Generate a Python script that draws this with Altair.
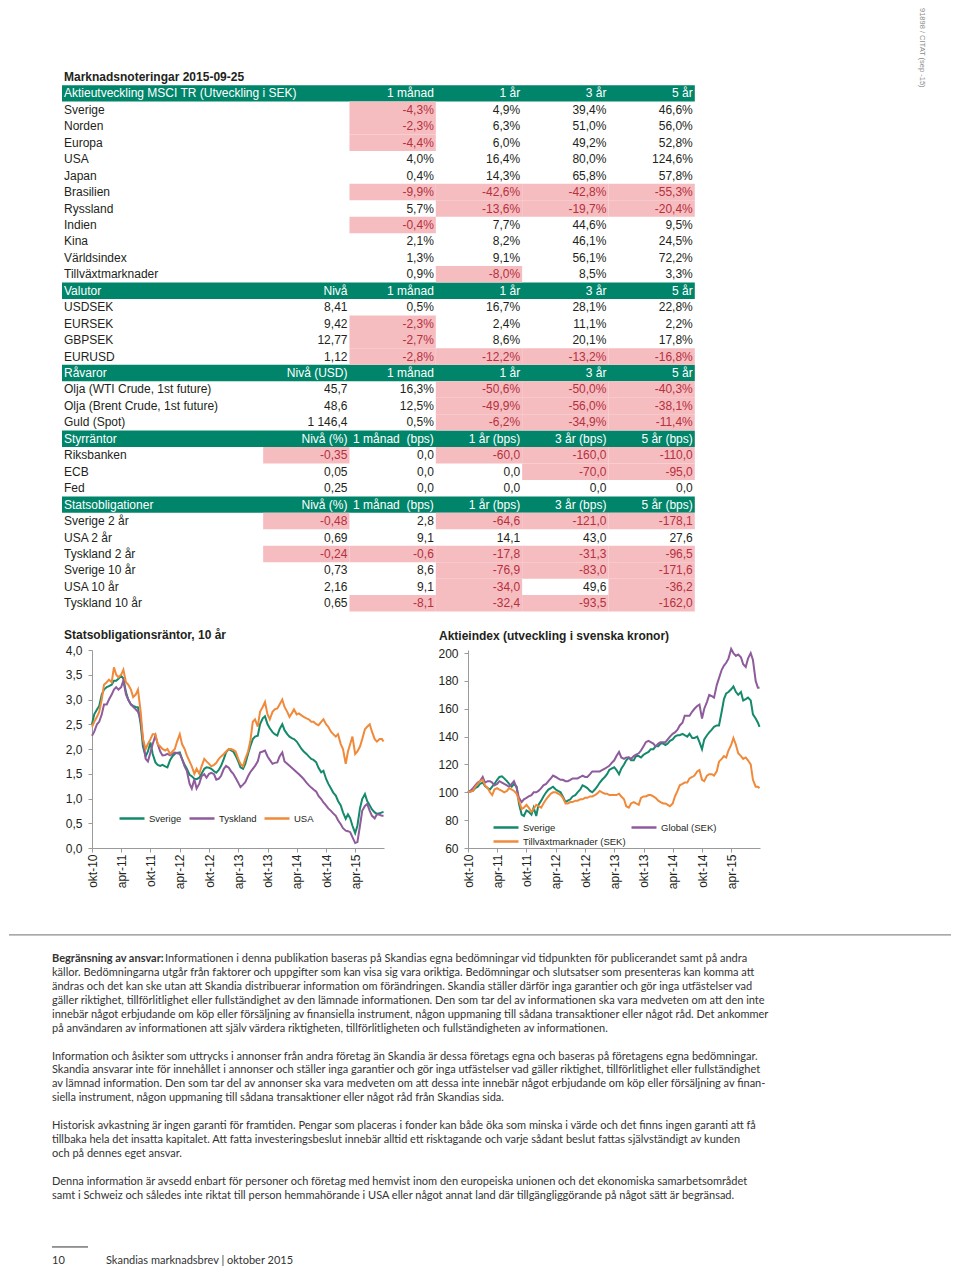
import altair as alt
import pandas as pd

# ======================= TABLE VALUES =======================
TABLE_TITLE = "Marknadsnoteringar 2015-09-25"
NOTE = "91898 / CITAT (sep -15)"

AKTIE_HEAD = ["Aktieutveckling MSCI TR (Utveckling i SEK)", "", "1 månad", "1 år", "3 år", "5 år"]
AKTIE_LABELS = ["Sverige", "Norden", "Europa", "USA", "Japan", "Brasilien", "Ryssland",
                "Indien", "Kina", "Världsindex", "Tillväxtmarknader"]
AKTIE_1M = [-4.3, -2.3, -4.4, 4.0, 0.4, -9.9, 5.7, -0.4, 2.1, 1.3, 0.9]
AKTIE_1Y = [4.9, 6.3, 6.0, 16.4, 14.3, -42.6, -13.6, 7.7, 8.2, 9.1, -8.0]
AKTIE_3Y = [39.4, 51.0, 49.2, 80.0, 65.8, -42.8, -19.7, 44.6, 46.1, 56.1, 8.5]
AKTIE_5Y = [46.6, 56.0, 52.8, 124.6, 57.8, -55.3, -20.4, 9.5, 24.5, 72.2, 3.3]

VALUTA_HEAD = ["Valutor", "Nivå", "1 månad", "1 år", "3 år", "5 år"]
VALUTA_LABELS = ["USDSEK", "EURSEK", "GBPSEK", "EURUSD"]
VALUTA_NIVA = [8.41, 9.42, 12.77, 1.12]
VALUTA_1M = [0.5, -2.3, -2.7, -2.8]
VALUTA_1Y = [16.7, 2.4, 8.6, -12.2]
VALUTA_3Y = [28.1, 11.1, 20.1, -13.2]
VALUTA_5Y = [22.8, 2.2, 17.8, -16.8]

RAVARA_HEAD = ["Råvaror", "Nivå (USD)", "1 månad", "1 år", "3 år", "5 år"]
RAVARA_LABELS = ["Olja (WTI Crude, 1st future)", "Olja (Brent Crude, 1st future)", "Guld (Spot)"]
RAVARA_NIVA = [45.7, 48.6, 1146.4]
RAVARA_1M = [16.3, 12.5, 0.5]
RAVARA_1Y = [-50.6, -49.9, -6.2]
RAVARA_3Y = [-50.0, -56.0, -34.9]
RAVARA_5Y = [-40.3, -38.1, -11.4]

STYR_HEAD = ["Styrräntor", "Nivå (%)", "1 månad\u00a0 (bps)", "1 år (bps)", "3 år (bps)", "5 år (bps)"]
STYR_LABELS = ["Riksbanken", "ECB", "Fed"]
STYR_NIVA = [-0.35, 0.05, 0.25]
STYR_1M = [0.0, 0.0, 0.0]
STYR_1Y = [-60.0, 0.0, 0.0]
STYR_3Y = [-160.0, -70.0, 0.0]
STYR_5Y = [-110.0, -95.0, 0.0]

OBL_HEAD = ["Statsobligationer", "Nivå (%)", "1 månad\u00a0 (bps)", "1 år (bps)", "3 år (bps)", "5 år (bps)"]
OBL_LABELS = ["Sverige 2 år", "USA 2 år", "Tyskland 2 år", "Sverige 10 år", "USA 10 år", "Tyskland 10 år"]
OBL_NIVA = [-0.48, 0.69, -0.24, 0.73, 2.16, 0.65]
OBL_1M = [2.8, 9.1, -0.6, 8.6, 9.1, -8.1]
OBL_1Y = [-64.6, 14.1, -17.8, -76.9, -34.0, -32.4]
OBL_3Y = [-121.0, 43.0, -31.3, -83.0, 49.6, -93.5]
OBL_5Y = [-178.1, 27.6, -96.5, -171.6, -36.2, -162.0]

# ======================= LINE CHART VALUES =======================
# sampling dates: 1st and 15th of each month, Oct 2010 - Sep 2015, plus 2015-09-25
MONTHS = [(2010 + (9 + i) // 12, (9 + i) % 12 + 1) for i in range(60)]
DATES = [f"{y}-{m:02d}-{d:02d}" for (y, m) in MONTHS for d in (1, 15)] + ["2015-09-25"]

BOND_NAMES = ["Sverige", "Tyskland", "USA"]
BOND_SVERIGE = [2.5, 2.7, 2.8, 2.87, 3.1, 3.2, 3.25, 3.27, 3.3, 3.38,
                3.38, 3.42, 3.48, 3.42, 3.15, 3.0, 2.9, 2.87, 2.85, 2.84,
                2.5, 2.05, 1.85, 1.95, 2.13, 1.9, 1.73, 1.68, 1.66, 1.68,
                1.65, 1.63, 1.78, 1.85, 1.9, 1.92, 1.93, 1.8, 1.68, 1.6,
                1.48, 1.45, 1.4, 1.39, 1.42, 1.5, 1.6, 1.63, 1.62, 1.6,
                1.55, 1.52, 1.58, 1.66, 1.8, 1.93, 2.0, 1.97, 1.95, 1.87,
                1.75, 1.63, 1.6, 1.7, 1.9, 2.05, 2.2, 2.25, 2.27, 2.5,
                2.62, 2.66, 2.5, 2.42, 2.34, 2.3, 2.27, 2.4, 2.5, 2.38,
                2.3, 2.25, 2.22, 2.2, 2.15, 2.08, 2.0, 1.95, 1.9, 1.85,
                1.8, 1.78, 1.73, 1.62, 1.53, 1.56, 1.4, 1.3, 1.2, 1.12,
                1.06, 0.95, 0.86, 0.72, 0.59, 0.68, 0.6, 0.45, 0.3, 0.45,
                0.8, 0.99, 1.09, 0.95, 0.86, 0.78, 0.72, 0.69, 0.7, 0.72,
                0.73]
BOND_TYSKLAND = [2.27, 2.35, 2.5, 2.55, 2.7, 2.9, 2.9, 3.0, 3.1, 3.2,
                 3.25, 3.2, 3.25, 3.38, 3.1, 3.0, 2.9, 2.85, 2.8, 2.75,
                 2.6, 2.2, 1.8, 1.75, 1.93, 2.1, 2.27, 2.1, 1.95, 1.87,
                 1.88, 1.9, 1.87, 1.9, 1.93, 1.92, 1.9, 1.8, 1.65, 1.56,
                 1.3, 1.2, 1.39, 1.2, 1.3, 1.45, 1.49, 1.42, 1.5, 1.52,
                 1.49, 1.38, 1.4, 1.46, 1.6, 1.66, 1.62, 1.55, 1.5, 1.42,
                 1.32, 1.23, 1.28, 1.33, 1.45, 1.53, 1.6, 1.66, 1.75, 1.93,
                 1.95, 1.97, 1.85, 1.78, 1.7, 1.72, 1.73, 1.85, 1.93, 1.75,
                 1.7, 1.66, 1.62, 1.58, 1.53, 1.49, 1.44, 1.39, 1.32, 1.27,
                 1.22, 1.18, 1.14, 1.05, 0.99, 0.92, 0.86, 0.8, 0.75, 0.7,
                 0.65, 0.56, 0.48, 0.4, 0.35, 0.34, 0.32, 0.22, 0.1, 0.12,
                 0.45, 0.75, 0.85, 0.89, 0.75, 0.65, 0.6, 0.68, 0.67, 0.65,
                 0.65]
BOND_USA = [2.45, 2.55, 2.65, 2.75, 3.0, 3.3, 3.35, 3.4, 3.35, 3.65,
            3.5, 3.45, 3.5, 3.6, 3.35, 3.3, 3.2, 3.05, 3.1, 3.2,
            2.75, 2.2, 2.0, 2.1, 2.2, 2.3, 2.3, 2.1, 2.05, 2.0,
            1.97, 2.0, 1.9, 1.95, 2.0, 2.15, 2.3, 2.1, 2.0, 1.87,
            1.75, 1.65, 1.5, 1.6, 1.5, 1.65, 1.8, 1.75, 1.7, 1.65,
            1.68, 1.72, 1.8, 1.85, 1.9, 1.95, 2.0, 2.0, 1.98, 1.95,
            1.8, 1.7, 1.65, 1.8, 1.95, 2.15, 2.55, 2.6, 2.45, 2.75,
            2.85, 2.95, 2.7, 2.6, 2.75, 2.8, 2.82, 2.9, 3.0, 2.85,
            2.75, 2.65, 2.72, 2.8, 2.7, 2.72, 2.68, 2.65, 2.62, 2.6,
            2.55, 2.55, 2.5, 2.48, 2.55, 2.6, 2.5, 2.45, 2.35, 2.3,
            2.25, 2.3, 2.1, 2.0, 1.7, 1.95, 2.1, 2.25, 1.9, 1.95,
            2.05, 2.2, 2.4, 2.45, 2.5, 2.35, 2.2, 2.15, 2.2, 2.2,
            2.15]

EQ_NAMES = ["Sverige", "Global (SEK)", "Tillväxtmarknader (SEK)"]
EQ_SVERIGE = [100, 100.5, 101, 103, 104, 106, 107, 104.5, 103, 102,
              104, 106, 109, 111, 111.5, 110, 108, 106, 104, 106,
              104, 92, 84, 83, 87, 86, 84, 89, 83, 91,
              94, 97, 100, 102, 103, 104, 102, 101, 100, 97,
              93, 94, 95, 97, 98, 100, 102, 105, 104, 103,
              101, 100, 102, 104, 107, 109, 111, 113, 116, 117,
              118, 116, 113, 117, 120, 123, 125, 123, 123, 126,
              126, 125, 127, 128, 129, 131, 131, 133, 133, 135,
              135, 134, 135, 137, 138, 140, 141, 141, 142, 141,
              140, 142, 139, 139, 140, 136, 131, 138, 141, 143,
              145, 147, 148, 148, 158, 167, 171, 172, 174, 176,
              172, 170, 172, 166, 167, 168, 166, 156, 153, 150,
              147]
EQ_GLOBAL = [100, 101, 103, 105, 107, 108, 111, 107, 108, 108,
             107, 105, 106, 108, 107, 106, 105, 104, 106, 108,
             103, 96, 93, 95, 96, 97, 98, 100, 100, 101,
             103, 105, 106, 108, 110, 112, 111, 110, 109, 109,
             108, 108, 109, 110, 110, 110, 111, 112, 111, 111,
             113, 115, 115, 115, 115, 116, 117, 118, 119, 121,
             123, 126, 129, 125, 124, 125, 125, 124, 126, 127,
             128, 130, 133, 136, 137, 136, 135, 133, 135, 136,
             136, 136, 138, 140, 142, 143, 145, 148, 150, 155,
             155, 155, 158, 160, 162, 163, 153, 160, 165, 170,
             169, 168, 177, 182, 188, 191, 193, 196, 203, 200,
             198, 199, 197, 192, 190, 196, 200, 195, 180, 175,
             175]
EQ_EM = [100, 100.5, 101, 104, 106, 108, 109, 105, 103, 100,
         98, 102, 103, 102, 101, 100, 101, 103, 102, 101,
         99, 94, 88, 89, 91, 89, 86, 88, 91, 90,
         89, 92, 95, 97, 99, 100, 100, 99, 98, 96,
         92, 92, 93, 93, 94, 94, 95, 95, 96, 96,
         97, 97, 98, 99, 101, 100, 99, 99, 98, 98,
         98, 98, 99, 97, 95, 90, 89, 92, 93, 92,
         91, 96, 97, 97, 98, 98, 97, 96, 94, 93,
         92, 92, 91, 90, 92, 97, 101, 105, 106, 107,
         107, 110, 111, 112, 115, 116, 109, 108, 112, 113,
         113, 112, 115, 122, 124, 126, 125, 130, 134, 139,
         134, 128, 126, 124, 125, 123, 120, 109, 104, 104,
         103]

BOND_TITLE = "Statsobligationsräntor, 10 år"
EQ_TITLE = "Aktieindex (utveckling i svenska kronor)"
BOND_TICKS = [0, 0.5, 1.0, 1.5, 2.0, 2.5, 3.0, 3.5, 4.0]
EQ_TICKS = [60, 80, 100, 120, 140, 160, 180, 200]

# ======================= TEXT =======================
DISCLAIMER_HEAD = "Begränsning av ansvar:"
DISCLAIMER_LINES = [
    "Informationen i denna publikation baseras på Skandias egna bedömningar vid tidpunkten för publicerandet samt på andra",
    "källor. Bedömningarna utgår från faktorer och uppgifter som kan visa sig vara oriktiga. Bedömningar och slutsatser som presenteras kan komma att",
    "ändras och det kan ske utan att Skandia distribuerar information om förändringen. Skandia ställer därför inga garantier och gör inga utfästelser vad",
    "gäller riktighet, tillförlitlighet eller fullständighet av den lämnade informationen. Den som tar del av informationen ska vara medveten om att den inte",
    "innebär något erbjudande om köp eller försäljning av finansiella instrument, någon uppmaning till sådana transaktioner eller något råd. Det ankommer",
    "på användaren av informationen att själv värdera riktigheten, tillförlitligheten och fullständigheten av informationen.",
    "",
    "Information och åsikter som uttrycks i annonser från andra företag än Skandia är dessa företags egna och baseras på företagens egna bedömningar.",
    "Skandia ansvarar inte för innehållet i annonser och ställer inga garantier och gör inga utfästelser vad gäller riktighet, tillförlitlighet eller fullständighet",
    "av lämnad information. Den som tar del av annonser ska vara medveten om att dessa inte innebär något erbjudande om köp eller försäljning av finan-",
    "siella instrument, någon uppmaning till sådana transaktioner eller något råd från Skandias sida.",
    "",
    "Historisk avkastning är ingen garanti för framtiden. Pengar som placeras i fonder kan både öka som minska i värde och det finns ingen garanti att få",
    "tillbaka hela det insatta kapitalet. Att fatta investeringsbeslut innebär alltid ett risktagande och varje sådant beslut fattas självständigt av kunden",
    "och på dennes eget ansvar.",
    "",
    "Denna information är avsedd enbart för personer och företag med hemvist inom den europeiska unionen och det ekonomiska samarbetsområdet",
    "samt i Schweiz och således inte riktat till person hemmahörande i USA eller något annat land där tillgängliggörande på något sätt är begränsad.",
]
PAGE_NO = "10"
FOOTER = "Skandias marknadsbrev | oktober 2015"

# ======================= STYLE / LAYOUT =======================
FONT = "Liberation Sans, Arial, Helvetica, sans-serif"
TEXT_FONT = "Lato, 'Open Sans', sans-serif"
GREEN = "#00856A"
PINK = "#F6BDC1"
RED = "#B5303C"
INK = "#231F20"
C_GREEN = "#14896B"
C_PURPLE = "#8E5B9C"
C_ORANGE = "#F08A3A"
AX = "#9A9A9A"

# all panels share the same plot origin (page x = 91)
UNIT = 86.33          # px per value column
LABEL_U = 2.33        # width of label column in column units
TABLE_U = LABEL_U + 5
TBL_OFF = 30          # table starts this many px left of the shared origin
TABLE_W = 603
ROW_H = 16.45
Y_TOP = 4.19
Y_BOT = 33.55
LINE_H = 13.95
T_TOP = 5.01
T_BOT = 22.1
TXT_X = -40
TXT_SIZE = 11


def fmt(v, kind):
    if kind == "pct":
        s = f"{v:.1f}%"
    elif kind == "lvl2":
        s = f"{v:.2f}"
    elif kind == "lvl1k":
        s = f"{v:,.1f}".replace(",", " ")
    else:
        s = f"{v:.1f}"
    return s.replace(".", ",")


sections = [
    (AKTIE_HEAD, AKTIE_LABELS, [None, AKTIE_1M, AKTIE_1Y, AKTIE_3Y, AKTIE_5Y],
     [None, "pct", "pct", "pct", "pct"]),
    (VALUTA_HEAD, VALUTA_LABELS, [VALUTA_NIVA, VALUTA_1M, VALUTA_1Y, VALUTA_3Y, VALUTA_5Y],
     ["lvl2", "pct", "pct", "pct", "pct"]),
    (RAVARA_HEAD, RAVARA_LABELS, [RAVARA_NIVA, RAVARA_1M, RAVARA_1Y, RAVARA_3Y, RAVARA_5Y],
     ["lvl1k", "pct", "pct", "pct", "pct"]),
    (STYR_HEAD, STYR_LABELS, [STYR_NIVA, STYR_1M, STYR_1Y, STYR_3Y, STYR_5Y],
     ["lvl2", "bps", "bps", "bps", "bps"]),
    (OBL_HEAD, OBL_LABELS, [OBL_NIVA, OBL_1M, OBL_1Y, OBL_3Y, OBL_5Y],
     ["lvl2", "bps", "bps", "bps", "bps"]),
]

left_txt, right_txt, bands, pinks = [], [], [], []
r = 1
for head, labels, cols, kinds in sections:
    bands.append({"x0": 0, "x1": TABLE_U, "y0": r - 0.5, "y1": r + 0.5})
    left_txt.append({"x": 0, "row": r, "t": head[0], "c": "#FFFFFF"})
    for j, h in enumerate(head[1:]):
        if h:
            right_txt.append({"x": LABEL_U + j + 1, "row": r, "t": h, "c": "#FFFFFF"})
    r += 1
    for i, lab in enumerate(labels):
        left_txt.append({"x": 0, "row": r, "t": lab, "c": INK})
        for j, (col, kind) in enumerate(zip(cols, kinds)):
            if col is None:
                continue
            v = col[i]
            neg = v < 0
            if neg:
                pinks.append({"x0": LABEL_U + j, "x1": LABEL_U + j + 1, "y0": r - 0.5, "y1": r + 0.5})
            right_txt.append({"x": LABEL_U + j + 1, "row": r, "t": fmt(v, kind), "c": RED if neg else INK})
        r += 1

xs = alt.Scale(domain=[TBL_OFF / UNIT, (TBL_OFF + TABLE_W) / UNIT], nice=False, zero=False)
ys = alt.Scale(domain=[-Y_TOP, Y_BOT], reverse=True, nice=False, zero=False)

band_layer = alt.Chart(pd.DataFrame(bands)).mark_rect(color=GREEN).encode(
    x=alt.X("x0:Q", scale=xs, axis=None), x2="x1:Q",
    y=alt.Y("y0:Q", scale=ys, axis=None), y2="y1:Q")
pink_layer = alt.Chart(pd.DataFrame(pinks)).mark_rect(color=PINK).encode(
    x=alt.X("x0:Q", scale=xs, axis=None), x2="x1:Q",
    y=alt.Y("y0:Q", scale=ys, axis=None), y2="y1:Q")
ltxt_layer = alt.Chart(pd.DataFrame(left_txt)).mark_text(
    align="left", baseline="middle", dx=2, font=FONT, fontSize=12).encode(
    x=alt.X("x:Q", scale=xs, axis=None), y=alt.Y("row:Q", scale=ys, axis=None),
    text="t:N", color=alt.Color("c:N", scale=None))
rtxt_layer = alt.Chart(pd.DataFrame(right_txt)).mark_text(
    align="right", baseline="middle", dx=-2, font=FONT, fontSize=12).encode(
    x=alt.X("x:Q", scale=xs, axis=None), y=alt.Y("row:Q", scale=ys, axis=None),
    text="t:N", color=alt.Color("c:N", scale=None))
title_layer = alt.Chart(pd.DataFrame({"x": [0], "row": [0], "t": [TABLE_TITLE]})).mark_text(
    align="left", baseline="middle", dx=2, font=FONT, fontSize=12, fontWeight="bold", color=INK).encode(
    x=alt.X("x:Q", scale=xs, axis=None), y=alt.Y("row:Q", scale=ys, axis=None), text="t:N")
note_layer = alt.Chart(pd.DataFrame({"t": [NOTE]})).mark_text(
    angle=90, align="left", baseline="middle", font=FONT, fontSize=7.5, color="#8a8a8a").encode(
    x=alt.value(830), y=alt.value(0), text="t:N")

table = alt.layer(band_layer, pink_layer, ltxt_layer, rtxt_layer, title_layer, note_layer).properties(
    width=TABLE_W, height=ROW_H * (Y_TOP + Y_BOT))

# ---------- line charts ----------
X_TICKS = [alt.DateTime(year=y, month=m, date=1, utc=True)
           for y, m in [(2010, 10), (2011, 4), (2011, 10), (2012, 4), (2012, 10),
                        (2013, 4), (2013, 10), (2014, 4), (2014, 10), (2015, 4)]]
x_scale = alt.Scale(type="utc", domain=[alt.DateTime(year=2010, month=10, date=1, utc=True),
                                        alt.DateTime(year=2015, month=9, date=28, utc=True)])


def x_axis():
    return alt.Axis(values=X_TICKS, title=None, grid=False,
                    labelExpr="(utcmonth(datum.value) == 9 ? 'okt' : 'apr') + '-' + utcFormat(datum.value, '%y')",
                    labelAngle=270, labelAlign="right", labelBaseline="middle", labelPadding=2,
                    labelFont=FONT, labelFontSize=12, labelColor=INK, labelFlush=False, labelOverlap=False,
                    tickSize=4, tickColor=AX, domainColor=AX)


def legend(lx, ly, colpad=2):
    return alt.Legend(title=None, orient="none", legendX=lx, legendY=ly, direction="horizontal",
                      symbolType="stroke", symbolSize=625, symbolStrokeWidth=2.5,
                      labelFont=FONT, labelFontSize=9.5, labelColor=INK, labelOffset=3,
                      columnPadding=colpad, padding=0)


n = len(DATES)
bond_df = pd.DataFrame({"date": DATES * 3,
                        "value": BOND_SVERIGE + BOND_TYSKLAND + BOND_USA,
                        "serie": [BOND_NAMES[0]] * n + [BOND_NAMES[1]] * n + [BOND_NAMES[2]] * n})

bond = alt.Chart(bond_df, title=alt.TitleParams(
    BOND_TITLE, anchor="start", frame="group", dx=-28, offset=2, font=FONT, fontSize=12,
    fontWeight="bold", color=INK)).mark_line(strokeWidth=2).encode(
    x=alt.X("date:T", scale=x_scale, axis=x_axis()),
    y=alt.Y("value:Q", scale=alt.Scale(domain=[0, 4], nice=False),
            axis=alt.Axis(values=BOND_TICKS, grid=False,
                          labelExpr="replace(format(datum.value, '.1f'), '.', ',')",
                          labelFont=FONT, labelFontSize=12, labelColor=INK, labelPadding=6,
                          labelFlush=False, labelOverlap=False,
                          tickSize=4, tickColor=AX, domainColor=AX, title=None)),
    color=alt.Color("serie:N", scale=alt.Scale(domain=BOND_NAMES, range=[C_GREEN, C_PURPLE, C_ORANGE]),
                    legend=legend(26, 154.5)),
).properties(width=292, height=198)

eq_y_axis = alt.Axis(values=EQ_TICKS, grid=False, format="d",
                     labelFont=FONT, labelFontSize=12, labelColor=INK, labelPadding=6,
                     labelFlush=False, labelOverlap=False,
                     tickSize=4, tickColor=AX, domainColor=AX, title=None)
eq_series = [(EQ_NAMES[0], EQ_SVERIGE, C_GREEN, 24, 163.5),
             (EQ_NAMES[1], EQ_GLOBAL, C_PURPLE, 162, 163.5),
             (EQ_NAMES[2], EQ_EM, C_ORANGE, 24, 177.5)]
eq_layers = []
for name, vals, col, lx, ly in eq_series:
    df = pd.DataFrame({"date": DATES, "value": vals, "serie": [name] * n})
    eq_layers.append(alt.Chart(df).mark_line(strokeWidth=2).encode(
        x=alt.X("date:T", scale=x_scale, axis=x_axis()),
        y=alt.Y("value:Q", scale=alt.Scale(domain=[60, 202.2], nice=False), axis=eq_y_axis),
        color=alt.Color("serie:N", scale=alt.Scale(domain=[name], range=[col]), legend=legend(lx, ly)),
    ))

eq = alt.layer(*eq_layers, title=alt.TitleParams(
    EQ_TITLE, anchor="start", frame="group", dx=-29, offset=2, font=FONT, fontSize=12,
    fontWeight="bold", color=INK)).resolve_scale(color="independent").properties(width=292, height=198)

charts = alt.hconcat(bond, eq, spacing=49).resolve_scale(color="independent")

# ---------- text block ----------
ts = alt.Scale(domain=[-T_TOP, T_BOT], reverse=True, nice=False, zero=False)
lines_df = pd.DataFrame({"line": list(range(len(DISCLAIMER_LINES))), "t": DISCLAIMER_LINES})
body_df = lines_df[(lines_df.line > 0) & (lines_df.t != "")]
first_df = lines_df[lines_df.line == 0]

txt_kw = dict(align="left", baseline="middle", font=TEXT_FONT, fontSize=TXT_SIZE, color="#333333")
body = alt.Chart(body_df).mark_text(**txt_kw).encode(
    x=alt.value(TXT_X), y=alt.Y("line:Q", scale=ts, axis=None), text="t:N")
first = alt.Chart(first_df).mark_text(**txt_kw).encode(
    x=alt.value(TXT_X + 113), y=alt.Y("line:Q", scale=ts, axis=None), text="t:N")
head = alt.Chart(pd.DataFrame({"line": [0], "t": [DISCLAIMER_HEAD]})).mark_text(
    **{**txt_kw, "fontWeight": "bold"}).encode(
    x=alt.value(TXT_X), y=alt.Y("line:Q", scale=ts, axis=None), text="t:N")
sep_rule = alt.Chart(pd.DataFrame({"line": [-1.72]})).mark_rule(color="#8c8c8c", strokeWidth=1.2).encode(
    x=alt.value(-83), x2=alt.value(859), y=alt.Y("line:Q", scale=ts, axis=None))
foot_rule = alt.Chart(pd.DataFrame({"line": [20.65]})).mark_rule(color="#333333", strokeWidth=1).encode(
    x=alt.value(TXT_X), x2=alt.value(TXT_X + 36), y=alt.Y("line:Q", scale=ts, axis=None))
foot_no = alt.Chart(pd.DataFrame({"line": [21.65], "t": [PAGE_NO]})).mark_text(**txt_kw).encode(
    x=alt.value(TXT_X), y=alt.Y("line:Q", scale=ts, axis=None), text="t:N")
foot_txt = alt.Chart(pd.DataFrame({"line": [21.65], "t": [FOOTER]})).mark_text(**txt_kw).encode(
    x=alt.value(14), y=alt.Y("line:Q", scale=ts, axis=None), text="t:N")

text_block = alt.layer(sep_rule, body, first, head, foot_rule, foot_no, foot_txt).properties(
    width=660, height=LINE_H * (T_TOP + T_BOT))

chart = alt.vconcat(table, charts, text_block, spacing=0).properties(
    padding={"left": 0, "top": 0, "right": 0, "bottom": 0}, background="white"
).configure_view(stroke=None)

chart.save("out.html", embed_options={"renderer": "svg", "actions": False})
